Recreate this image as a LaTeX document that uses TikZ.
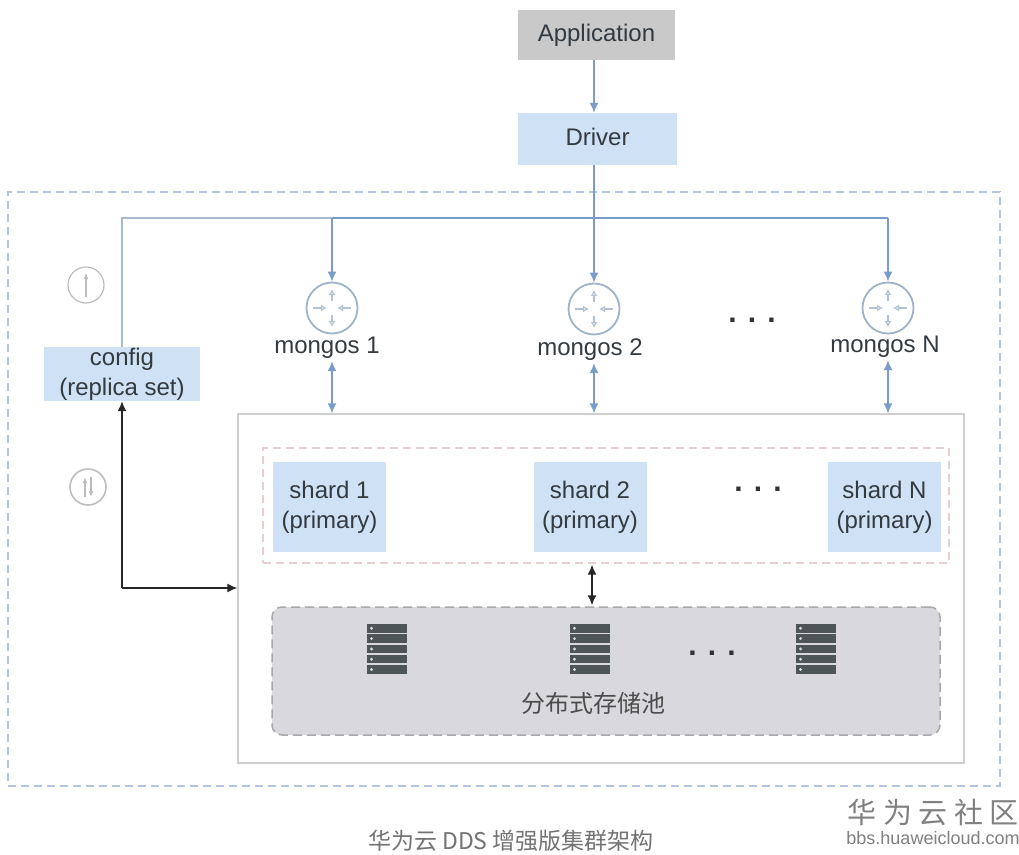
\documentclass[tikz,border=0pt]{standalone}
\usepackage{fontspec}
\setmainfont{Liberation Sans}
\newfontfamily\cjk{Noto Sans CJK SC}
\usetikzlibrary{arrows.meta,calc}

\definecolor{boxblue}{HTML}{CFE1F4}
\definecolor{boxgray}{HTML}{C9C9C9}
\definecolor{linkblue}{HTML}{7A9CC8}
\definecolor{buslight}{HTML}{A9BACF}
\definecolor{outerdash}{HTML}{B4C6DE}
\definecolor{framegray}{HTML}{CFCFCF}
\definecolor{pinkdash}{HTML}{E6CFCF}
\definecolor{poolgray}{HTML}{D9D8DC}
\definecolor{pooldash}{HTML}{A8A8AA}
\definecolor{rackgray}{HTML}{4D5558}
\definecolor{routerblue}{HTML}{9FB3C8}
\definecolor{rounditem}{HTML}{BDBDBD}
\definecolor{textgray}{HTML}{333A40}

\begin{document}
\begin{tikzpicture}[
	x=1pt,
	y=-1pt,
	>={Latex[length=10pt,width=9pt]},
	font=\fontsize{24}{30}\selectfont,
	text=textgray,
	box/.style={
		rectangle,
		fill=boxblue,
		align=center,
		inner sep=0pt
	},
	link/.style={
		draw=linkblue,
		line width=1.5pt
	},
	bus/.style={
		draw=buslight,
		line width=1.5pt
	},
	blacklink/.style={
		draw=black!85,
		line width=1.5pt
	},
	router/.style={
		circle,
		draw=routerblue,
		line width=1.8pt,
		minimum size=51pt,
		inner sep=0pt
	},
	roundmark/.style={
		circle,
		draw=rounditem,
		line width=1.2pt,
		minimum size=36pt,
		inner sep=0pt
	},
	markarrow/.style={
		rounditem,
		line width=1.2pt,
		-{Latex[length=6pt,width=5pt]}
	},
	routerarrow/.style={
		routerblue!80,
		line width=1.2pt,
		-{Latex[length=6pt,width=7pt,open]}
	},
	moredots/.style={
		font=\fontsize{30}{30}\selectfont\bfseries,
		text=black!80
	},
	rack/.pic={
		\foreach \r in {0, ..., 4} {
			\fill[rackgray] (-20,-26+\r*10.3) rectangle (20,-17.5+\r*10.3);
			\fill[white!85!black] (-15.5,-21.7+\r*10.3) circle (1.6);
		}
	},
	routerarrows/.pic={
		\draw[routerarrow] (0,-7) -- (0,-19);
		\draw[routerarrow] (0,7) -- (0,19);
		\draw[routerarrow] (-19,0) -- (-5,0);
		\draw[routerarrow] (19,0) -- (5,0);
	},
]
\useasboundingbox (0,0) rectangle (1019,854);

% Outer frame
\node[rectangle, dash pattern=on 8pt off 5pt, draw=outerdash, line width=1.4pt, minimum width=992pt, minimum height=594pt] (cluster) at (504,489) {};

% Top
\node[box, fill=boxgray, minimum width=157pt, minimum height=50pt] (app) at (596.5,35) {Application};
\node[box, text depth=5pt, minimum width=159pt, minimum height=52pt] (driver) at (597.5,139) {Driver};

% Storage frame
\node[rectangle, draw=framegray, line width=1.3pt, fill=white, minimum width=726pt, minimum height=349pt] (store) at (601,588.5) {};
\node[rectangle, dash pattern=on 8pt off 5pt, draw=pinkdash, line width=1.4pt, minimum width=686pt, minimum height=115pt] (primary) at (606,505.5) {};
\node[rectangle, dash pattern=on 9pt off 5pt, draw=pooldash, line width=1.5pt, fill=poolgray, rounded corners=10pt, minimum width=668pt, minimum height=128pt] (pool) at (606,671) {};

% Config
\node[box, minimum width=156pt, minimum height=54pt] (config) at (122,374) {config\\(replica set)};

% Mongos
\foreach \n/\x/\y/\lx/\ly/\t in {1/332/308/327/348/mongos 1, 2/594/309/590/350/mongos 2, 3/888/308/885/347/mongos N} {
	\node[router] (rtr\n) at (\x,\y) {};
	\pic at (rtr\n.center) {routerarrows};
	\node[inner sep=0pt, minimum height=26pt] (mongos\n) at (\lx,\ly) {\t};
}

% Shards
\foreach \n/\x/\t in {1/329.5/shard 1, 2/590/shard 2, 3/884.5/shard N} {
	\node[box, minimum width=113pt, minimum height=90pt] (shard\n) at (\x,507) {\t\\(primary)};
}

% Pool content
\foreach \n/\x in {1/387, 2/590, 3/816}
	\pic (server\n) at (\x,650) {rack};
\node[font=\cjk\fontsize{24}{28}\selectfont, text=black!70] (poolname) at (593,703) {分布式存储池};

% Dots
\node[moredots] (dots1) at (752,320) {. . .};
\node[moredots] (dots2) at (758,489) {. . .};
\node[moredots] (dots3) at (712,653) {. . .};

% Round marks
\node[roundmark] (step1) at (86,285) {};
\draw[markarrow] (86,297) -- (86,273);
\node[roundmark, line width=1.6pt] (step2) at (88,487) {};
\draw[markarrow] (85,497) -- (85,477);
\draw[markarrow] (91,477) -- (91,497);

% Connectors
\coordinate (bus) at (0,218);
\coordinate (corner) at (122,588);
\draw[link, ->] (app.south -| rtr2.north) -- (driver.north -| rtr2.north);
\draw[bus] (config.north) -- (config.north |- bus) -- (rtr1.north |- bus);
\draw[link] (rtr1.north |- bus) -- (rtr3.north |- bus);
\draw[link, ->] (driver.south -| rtr2.north) -- (rtr2.north);
\draw[link, ->] (rtr1.north |- bus) -- (rtr1.north);
\draw[link, ->] (rtr3.north |- bus) -- (rtr3.north);
\foreach \n in {1, 2, 3}
	\draw[link, <->] (rtr\n.center |- mongos\n.south) -- (rtr\n.center |- store.north);

\draw[blacklink, ->] (corner) -- (corner -| store.west);
\draw[blacklink, ->] (corner) -- (config.south);
\draw[blacklink, <->] ($(rtr2.center |- primary.south)+(-2,1)$) -- ($(rtr2.center |- pool.north)+(-2,-1)$);

% Captions
\node[font=\cjk\fontsize{23}{26}\selectfont, text=black!55, inner sep=0pt] (caption) at (511,841) {华为云 DDS 增强版集群架构};
\node[font=\cjk\fontsize{29}{32}\selectfont, text=black!50] (mark) at (933,812) {华 为 云 社 区};
\node[font=\fontsize{18}{20}\selectfont, text=black!50, inner sep=0pt] (site) at (933,838) {bbs.huaweicloud.com};

\end{tikzpicture}
\end{document}
